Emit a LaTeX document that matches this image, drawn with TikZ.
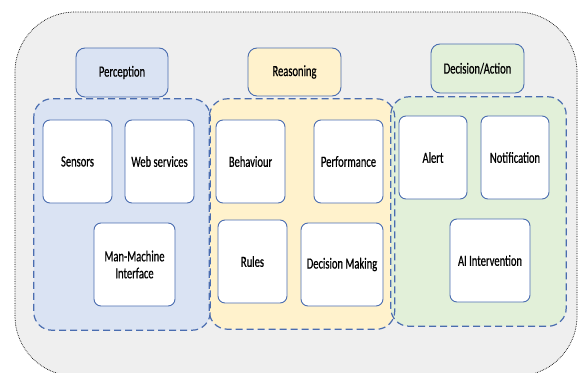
\documentclass[tikz,border=0pt]{standalone}
\usepackage{fontspec}
\setmainfont[FakeStretch=0.68,FakeBold=0.6]{Carlito}
\begin{document}
\begin{tikzpicture}[x=1pt,y=-1pt,
  font=\fontsize{15.5}{17}\selectfont,
  panel/.style={draw=none, inner sep=0pt},
  panelline/.style={draw=edgeblue, line width=1.2pt, dash pattern=on 7pt off 4pt,
    rounded corners=18pt},
  header/.style={draw=edgeblue, line width=0.9pt, rounded corners=9pt,
    minimum width=93pt, minimum height=49pt, inner sep=0pt},
  item/.style={draw=edgeblue, line width=0.9pt, fill=white, rounded corners=7pt,
    minimum height=83pt, inner sep=0pt, align=center},
]
\definecolor{edgeblue}{HTML}{4A6DB0}
\definecolor{outergray}{HTML}{EFEFEF}
\definecolor{percfill}{HTML}{DAE3F3}
\definecolor{reasfill}{HTML}{FFF2CC}
\definecolor{actfill}{HTML}{E2F0D9}

\useasboundingbox (0,0) rectangle (578,372);
\clip (0,0) rectangle (578,372);
\fill[white] (0,0) rectangle (578,372);

% outer frame
\draw[black, line width=0.7pt, densely dotted, fill=outergray, rounded corners=60pt]
  (15,12) rectangle (577,376);

% dashed group panels
\node[panel, minimum width=176pt, minimum height=231pt] (pgrp) at (122,214.5) {};
\node[panel, minimum width=185pt, minimum height=230pt] (rgrp) at (302,214) {};
\node[panel, minimum width=175pt, minimum height=229pt] (agrp) at (478.5,211.5) {};
\fill[percfill, rounded corners=18pt] (pgrp.north west) rectangle (pgrp.south east);
\fill[reasfill, rounded corners=18pt] (rgrp.north west) rectangle (rgrp.south east);
\fill[actfill, rounded corners=18pt] (agrp.north west) rectangle (agrp.south east);
\draw[panelline] (pgrp.north west) rectangle (pgrp.south east);
\draw[panelline] (rgrp.north west) rectangle (rgrp.south east);
\draw[panelline] (agrp.north west) rectangle (agrp.south east);

% headers
\node[header, fill=percfill, minimum width=92pt] (perc) at (122,72.5) {Perception};
\node[header, fill=reasfill, minimum height=48pt] (reas) at (294.5,72) {Reasoning};
\node[header, fill=actfill] (act) at (477.5,68.5) {Decision/Action};

% perception items
\node[item, minimum width=69pt] (sens) at (77.5,161.5) {Sensors};
\node[item, minimum width=69pt] (web)  at (159.5,161.5) {Web services};
\node[item, minimum width=81pt] (mmi)  at (134.5,264.5) {Man-Machine\\Interface};

% reasoning items
\node[item, minimum width=69pt] (beh)  at (250.5,161.5) {Behaviour};
\node[item, minimum width=69pt] (perf) at (348.5,161.5) {Performance};
\node[item, minimum width=69pt] (rules) at (252.5,261.5) {Rules};
\node[item, minimum width=82pt] (dm)   at (342,264.5) {Decision Making};

% decision/action items
\node[item, minimum width=68pt] (alert) at (433,157.5) {Alert};
\node[item, minimum width=68pt] (notif) at (515,157.5) {Notification};
\node[item, minimum width=80pt] (ai)    at (490,260.5) {AI Intervention};
\end{tikzpicture}
\end{document}
